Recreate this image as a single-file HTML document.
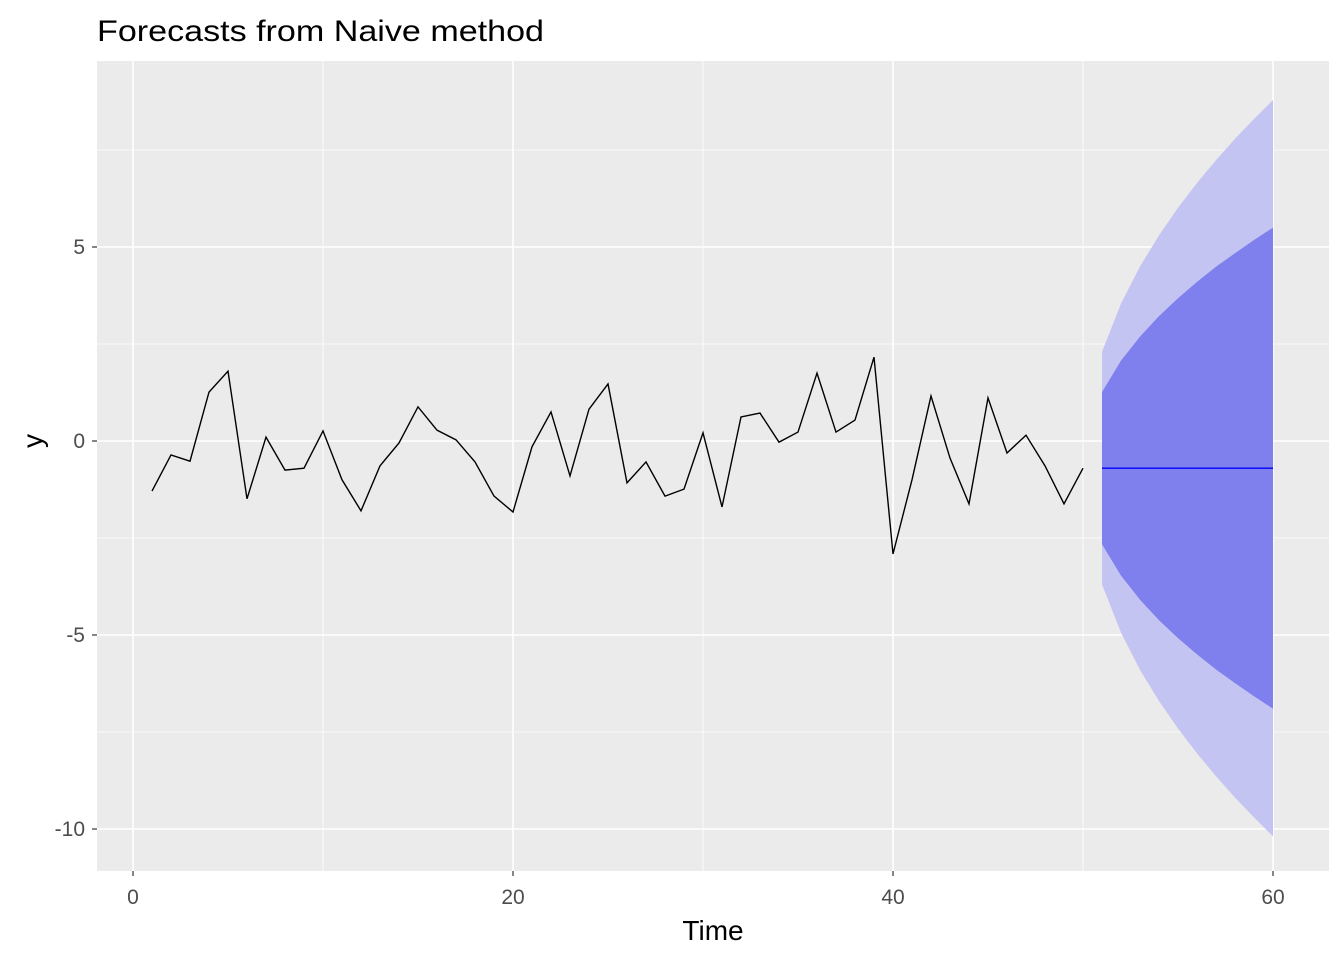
<!DOCTYPE html>
<html><head><meta charset="utf-8"><style>
body{margin:0;background:#fff}
svg text{font-family:"Liberation Sans",sans-serif}
</style></head><body>
<svg id="chart" width="1344" height="960" xmlns="http://www.w3.org/2000/svg">
<text x="97" y="41" font-size="30" textLength="447" lengthAdjust="spacingAndGlyphs" fill="#000">Forecasts from Naive method</text>
<rect x="97" y="61" width="1232" height="810" fill="#ebebeb"/>
<g id="grid"></g><g id="bands"></g><g id="lines"></g><g id="axes"></g>
<text x="713" y="940" font-size="28" text-anchor="middle" fill="#000">Time</text>
<text transform="translate(42,441) rotate(-90)" font-size="28" text-anchor="middle" fill="#000">y</text>
</svg>
<script>
const series = [-1.29,-0.36,-0.52,1.26,1.80,-1.49,0.10,-0.75,-0.70,0.26,-1.0,-1.80,-0.64,-0.05,0.88,0.28,0.03,-0.54,-1.42,-1.83,-0.15,0.75,-0.90,0.82,1.47,-1.08,-0.54,-1.42,-1.24,0.21,-1.70,0.62,0.72,-0.03,0.23,1.75,0.23,0.54,2.16,-2.91,-1.0,1.16,-0.44,-1.62,1.11,-0.31,0.15,-0.64,-1.62,-0.70];
const fcMean = [-0.70,-0.70,-0.70,-0.70,-0.70,-0.70,-0.70,-0.70,-0.70,-0.70];
const up80 = [1.26,2.07,2.69,3.22,3.68,4.10,4.49,4.84,5.18,5.50];
const lo80 = [-2.66,-3.47,-4.09,-4.62,-5.08,-5.50,-5.89,-6.24,-6.58,-6.90];
const up95 = [2.30,3.54,4.50,5.30,6.01,6.65,7.24,7.79,8.30,8.79];
const lo95 = [-3.70,-4.94,-5.90,-6.70,-7.41,-8.05,-8.64,-9.19,-9.70,-10.19];
const xTicks = [0,20,40,60];
const yTicks = [5,0,-5,-10];
const xMinor = [10,30,50];
const yMinor = [7.5,2.5,-2.5,-7.5];
const NS="http://www.w3.org/2000/svg";
const X=t=>133+19*t, Y=v=>441-38.8*v;
function mk(tag,attrs,parent){const e=document.createElementNS(NS,tag);for(const k in attrs)e.setAttribute(k,attrs[k]);document.getElementById(parent).appendChild(e);return e;}
xMinor.forEach(t=>{const e=mk('line',{x1:X(t),x2:X(t),y1:61,y2:871,stroke:'#fff','stroke-width':0.8},'grid');

});
yMinor.forEach(v=>{const e=mk('line',{x1:97,x2:1329,y1:Y(v),y2:Y(v),stroke:'#fff','stroke-width':0.8},'grid');

});
xTicks.forEach(t=>{const e=mk('line',{x1:X(t),x2:X(t),y1:61,y2:871,stroke:'#fff','stroke-width':1.6},'grid');


const tk=mk('line',{x1:X(t),x2:X(t),y1:871,y2:876,stroke:'#333','stroke-width':1.2},'axes');


const l=mk('text',{x:X(t),y:904,'font-size':21,'text-anchor':'middle',fill:'#4d4d4d'},'axes');l.textContent=t;

});
yTicks.forEach(v=>{const e=mk('line',{x1:97,x2:1329,y1:Y(v),y2:Y(v),stroke:'#fff','stroke-width':1.6},'grid');


const tk=mk('line',{x1:92,x2:97,y1:Y(v),y2:Y(v),stroke:'#333','stroke-width':1.2},'axes');


const l=mk('text',{x:85,y:Y(v)+7,'font-size':21,'text-anchor':'end',fill:'#4d4d4d'},'axes');l.textContent=v;

});
const n=series.length;
function band(up,lo,fill,name){let pts=up.map((v,i)=>X(n+1+i)+','+Y(v));
for(let i=lo.length-1;i>=0;i--)pts.push(X(n+1+i)+','+Y(lo[i]));
const e=mk('polygon',{points:pts.join(' '),fill:fill},'bands');

}
band(up95,lo95,'#c4c4f3','band-95');
band(up80,lo80,'#7f7fed','band-80');
const s=mk('polyline',{points:series.map((v,i)=>X(i+1)+','+Y(v)).join(' '),fill:'none',stroke:'#000','stroke-width':1.4},'lines');


const f=mk('polyline',{points:fcMean.map((v,i)=>X(n+1+i)+','+Y(v)).join(' '),fill:'none',stroke:'#0000ff','stroke-width':1.4},'lines');


</script>
</body></html>
